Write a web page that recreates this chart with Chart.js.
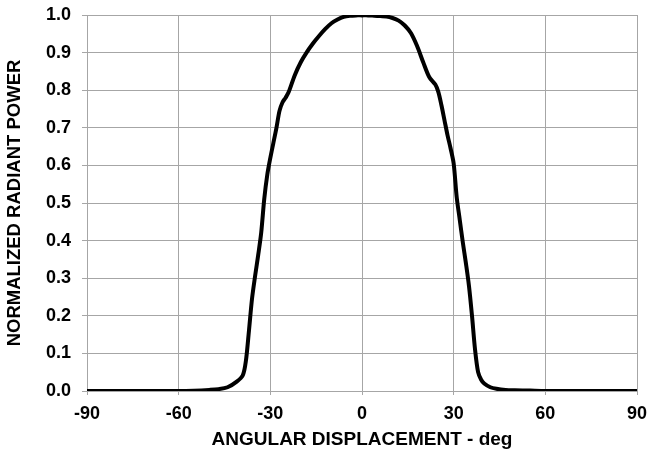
<!DOCTYPE html>
<html>
<head>
<meta charset="utf-8">
<script src="https://cdn.jsdelivr.net/npm/chart.js@4"></script>
<style>
  html, body { margin: 0; padding: 0; background: #fff; }
  #wrap { width: 650px; height: 451px; }
</style>
</head>
<body>
<div id="wrap"><canvas id="radiantChart" width="650" height="451"></canvas></div>
<script>
// angle (deg) and normalized radiant power
const angles = [-90, -80, -70, -60, -55, -50, -47, -44, -41, -39, -38, -37, -36, -35, -34, -33, -32, -31, -30,
  -29, -28, -27, -26, -25, -24, -22, -20, -18, -16, -14, -12, -10, -8, -6, -4, -2, 0, 2, 4, 6, 8, 10, 12, 14,
  16, 18, 20, 22, 24, 25, 26, 27, 28, 29, 30, 31, 32, 33, 34, 35, 36, 37, 38, 39, 40, 42, 44, 47, 50, 55, 60,
  70, 80, 90];
const power = [0, 0, 0, 0, 0.001, 0.003, 0.005, 0.010, 0.025, 0.042, 0.08, 0.16, 0.245, 0.305, 0.36, 0.42, 0.51,
  0.575, 0.62, 0.66, 0.70, 0.745, 0.768, 0.78, 0.795, 0.84, 0.875, 0.902, 0.925, 0.945, 0.963, 0.978, 0.988,
  0.995, 0.998, 0.999, 0.999, 0.999, 0.998, 0.997, 0.996, 0.992, 0.985, 0.972, 0.952, 0.918, 0.875, 0.835,
  0.815, 0.795, 0.76, 0.72, 0.68, 0.645, 0.605, 0.515, 0.455, 0.395, 0.34, 0.28, 0.20, 0.11, 0.05, 0.03,
  0.02, 0.01, 0.006, 0.003, 0.002, 0.001, 0, 0, 0, 0];
const xTicks = [-90, -60, -30, 0, 30, 60, 90];
const yTicks = [0, 0.1, 0.2, 0.3, 0.4, 0.5, 0.6, 0.7, 0.8, 0.9, 1.0];

const points = angles.map((a, i) => ({ x: a, y: power[i] }));
const gridGrey = '#a6a6a6';
const fam = '"Liberation Sans", Arial, sans-serif';
const tickFont = { family: fam, size: 18, weight: 'bold' };

const ctx = document.getElementById('radiantChart').getContext('2d');
new Chart(ctx, {
  type: 'line',
  data: {
    datasets: [{
      label: 'power',
      data: points,
      borderColor: '#000',
      borderWidth: 4,
      pointRadius: 0,
      tension: 0.3,
      fill: false
    }]
  },
  options: {
    responsive: false,
    animation: false,
    layout: { padding: { top: 15, right: 13, left: 0, bottom: 0 } },
    plugins: { legend: { display: false }, tooltip: { enabled: false } },
    scales: {
      x: {
        type: 'linear',
        min: -90, max: 90,
        afterBuildTicks: s => { s.ticks = xTicks.map(v => ({ value: v })); },
        afterFit: s => { s.height = 60; s.paddingLeft = 0; s.paddingRight = 0; },
        grid: { color: gridGrey, lineWidth: 1, tickLength: 4 },
        border: { color: gridGrey, width: 1 },
        ticks: { color: '#000', font: tickFont, padding: 8, maxRotation: 0 },
        title: {
          display: true, text: 'ANGULAR DISPLACEMENT - deg', color: '#000',
          font: { family: fam, size: 19, weight: 'bold' }, padding: { top: 2, bottom: 0 }
        }
      },
      y: {
        min: 0, max: 1,
        afterBuildTicks: s => { s.ticks = yTicks.map(v => ({ value: v })); },
        afterFit: s => { s.width = 87; s.paddingTop = 0; s.paddingBottom = 0; },
        grid: { color: gridGrey, lineWidth: 1, tickLength: 5 },
        border: { color: gridGrey, width: 1 },
        ticks: { color: '#000', font: tickFont, padding: 11, callback: v => v.toFixed(1) },
        title: {
          display: true, text: 'NORMALIZED RADIANT POWER', color: '#000',
          font: { family: fam, size: 18.5, weight: 'bold' }, padding: { top: 4, bottom: 0 }
        }
      }
    }
  }
});
</script>
</body>
</html>
